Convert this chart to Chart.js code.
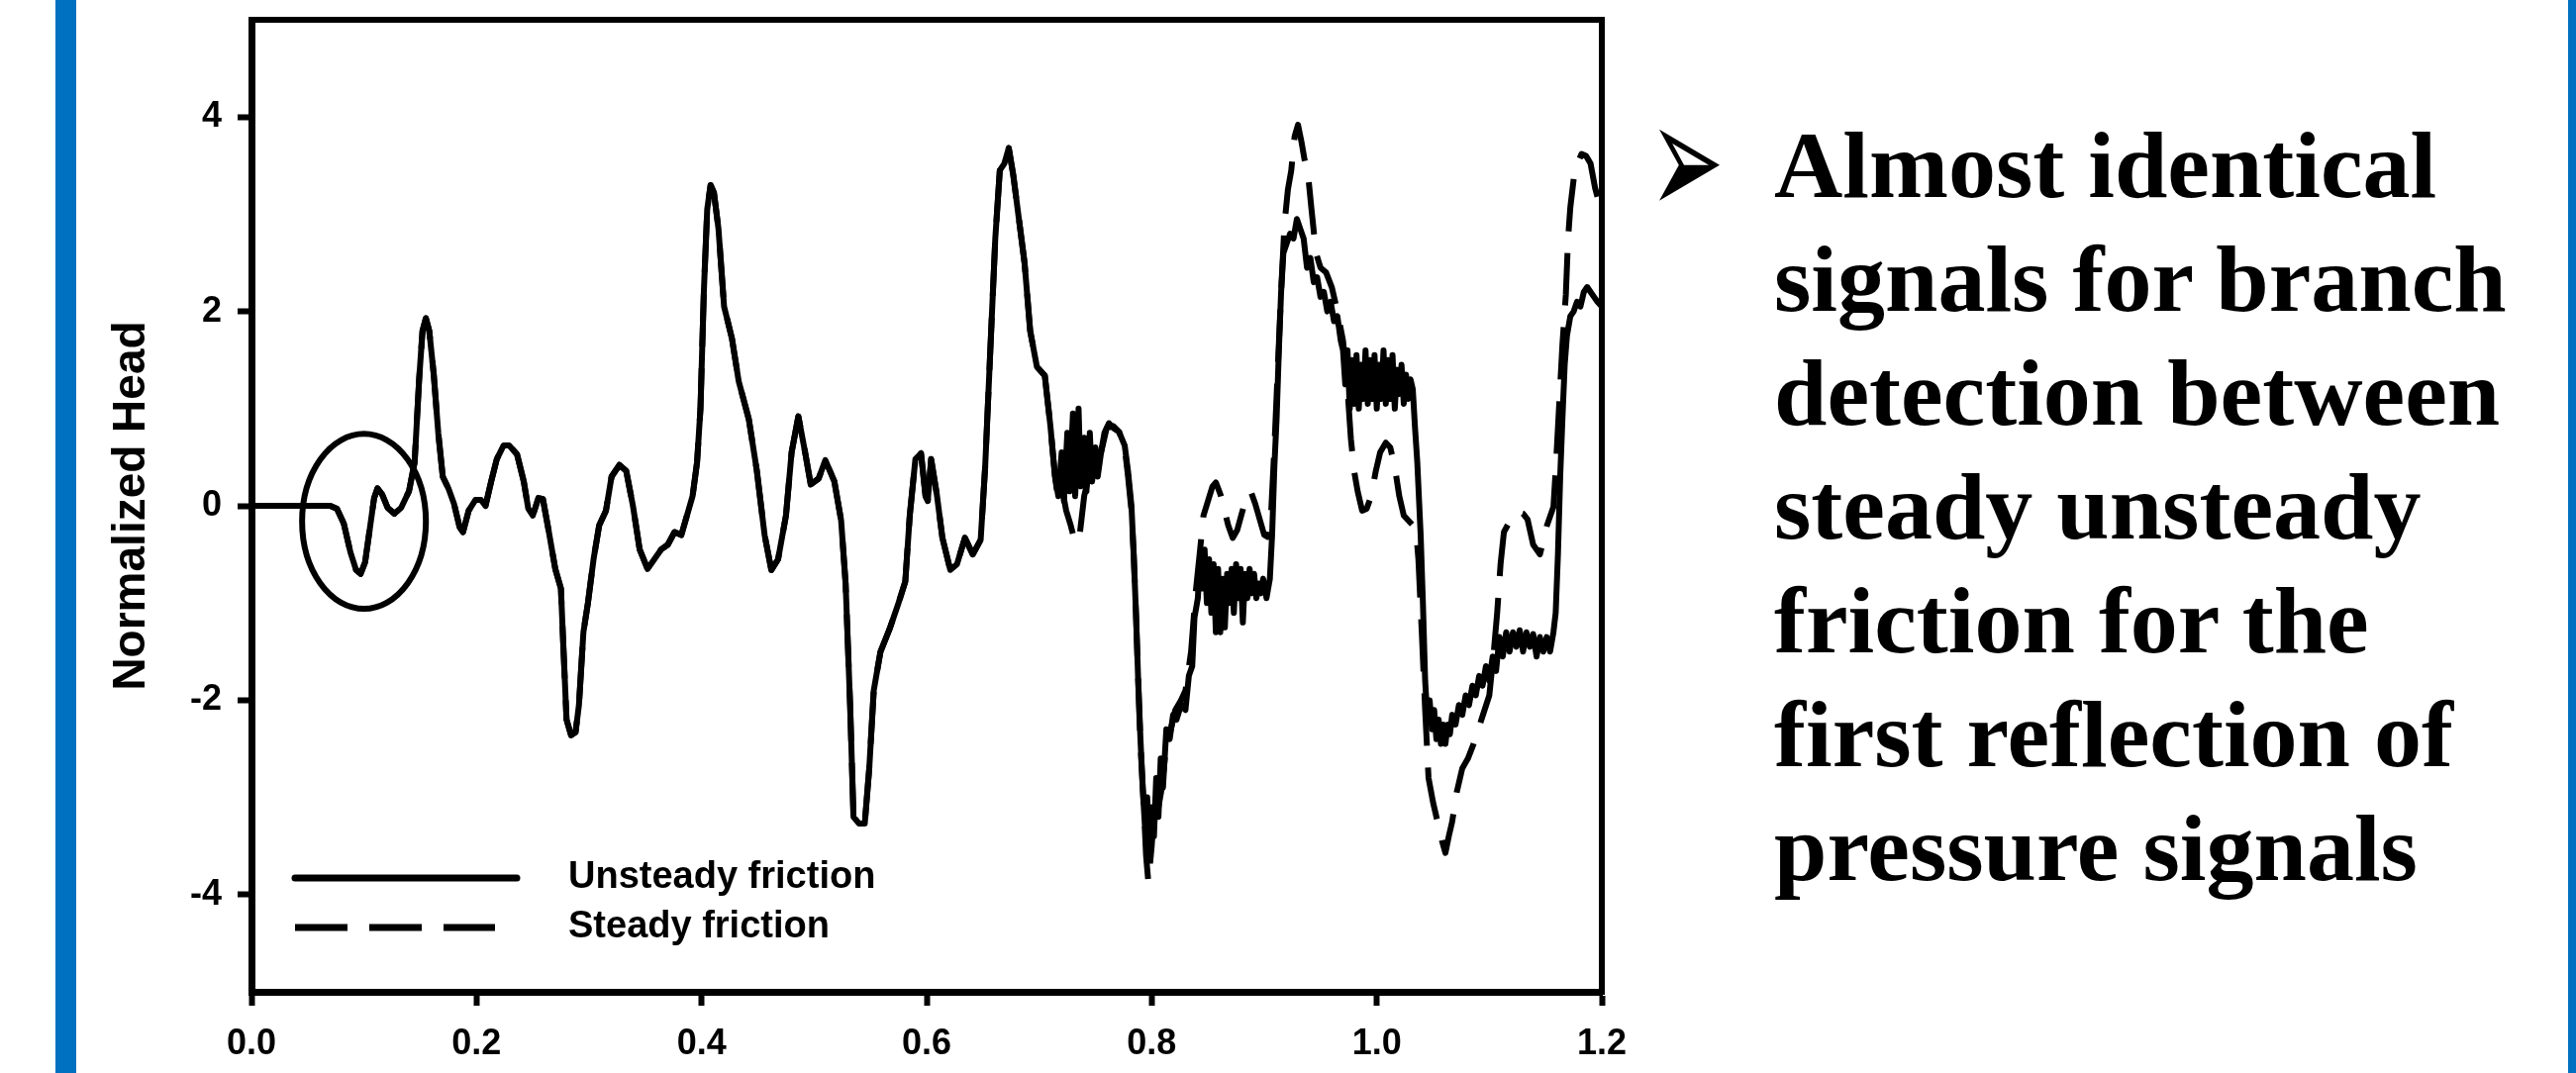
<!DOCTYPE html>
<html>
<head>
<meta charset="utf-8">
<script src="https://cdn.jsdelivr.net/npm/chart.js@4.4.1/dist/chart.umd.min.js"></script>
<style>
  html, body { margin: 0; padding: 0; background: #fff; width: 2602px; height: 1084px; overflow: hidden; position: relative; }
  #barLeft { position: absolute; left: 56px; top: 0; width: 21px; height: 1084px; background: #0070C0; }
  #barRight { position: absolute; left: 2594px; top: 0; width: 8px; height: 1084px; background: #0070C0; }
  #wrap { position: absolute; left: 0; top: 0; width: 1700px; height: 1084px; }
  #note { position: absolute; left: 1792px; top: 109px; font-family: "Liberation Serif", "Times New Roman", serif; font-weight: bold; font-size: 96px; line-height: 115px; color: #000; white-space: nowrap; }
  #bullet { position: absolute; left: 1666px; top: 80px; display: inline-block; font-family: "DejaVu Sans", sans-serif; font-size: 90px; line-height: 90px; color: #000; transform: scaleY(1.82); transform-origin: 0 0; }
</style>
</head>
<body>
<div id="barLeft"></div>
<div id="barRight"></div>
<div id="wrap"><canvas id="chart" width="1700" height="1084"></canvas></div>
<span id="bullet">&#x27A2;</span>
<div id="note">Almost identical<br>signals for branch<br>detection between<br>steady unsteady<br>friction for the<br>first reflection of<br>pressure signals</div>
<script>
// ---- data (time in s, normalized head) ----
// Both friction models coincide up to ~0.714 s
const earlyTime = [0.000,0.070,0.076,0.082,0.088,0.093,0.097,0.101,0.105,0.109,
  0.112,0.116,0.121,0.127,0.133,0.140,0.145,0.149,0.152,0.155,
  0.158,0.162,0.166,0.170,0.175,0.180,0.185,0.188,0.193,0.199,
  0.204,0.208,0.213,0.218,0.224,0.229,0.236,0.242,0.246,0.250,
  0.255,0.259,0.264,0.270,0.275,0.277,0.280,0.284,0.288,0.291,
  0.295,0.299,0.304,0.309,0.315,0.320,0.327,0.333,0.339,0.345,
  0.352,0.358,0.364,0.370,0.376,0.382,0.387,0.392,0.396,0.399,
  0.402,0.405,0.408,0.411,0.415,0.420,0.427,0.433,0.442,0.449,
  0.456,0.462,0.468,0.475,0.480,0.486,0.492,0.497,0.504,0.510,
  0.518,0.524,0.528,0.532,0.535,0.540,0.545,0.549,0.553,0.559,
  0.567,0.575,0.581,0.585,0.590,0.595,0.599,0.601,0.604,0.609,
  0.614,0.621,0.627,0.634,0.641,0.648,0.652,0.656,0.661,0.665,
  0.669,0.673,0.677,0.682,0.687,0.692,0.698,0.705,0.710,0.714];
const earlyHead = [0.00,0.00,-0.03,-0.18,-0.48,-0.66,-0.70,-0.58,-0.25,0.08,
  0.18,0.12,-0.02,-0.08,-0.02,0.15,0.45,1.30,1.80,1.93,
  1.80,1.35,0.75,0.30,0.18,0.02,-0.22,-0.27,-0.05,0.06,
  0.06,0.00,0.25,0.48,0.62,0.62,0.53,0.25,-0.03,-0.10,
  0.08,0.07,-0.25,-0.65,-0.85,-1.40,-2.20,-2.36,-2.33,-2.05,
  -1.30,-1.00,-0.55,-0.20,-0.05,0.30,0.42,0.36,0.00,-0.45,
  -0.65,-0.55,-0.45,-0.40,-0.27,-0.30,-0.10,0.10,0.45,1.00,
  2.20,3.05,3.30,3.22,2.85,2.05,1.72,1.28,0.89,0.37,
  -0.30,-0.66,-0.55,-0.10,0.55,0.92,0.55,0.22,0.28,0.47,
  0.25,-0.15,-0.80,-2.05,-3.20,-3.27,-3.27,-2.70,-1.90,-1.50,
  -1.27,-1.00,-0.78,-0.10,0.48,0.54,0.10,0.05,0.48,0.12,
  -0.33,-0.66,-0.60,-0.33,-0.50,-0.35,0.40,1.45,2.75,3.45,
  3.52,3.68,3.40,2.95,2.50,1.80,1.43,1.34,0.82,0.31];

// Unsteady friction after 0.714 s
const lateTimeUnsteady = [0.717,0.720,0.722,0.725,0.727,0.730,0.732,0.735,0.737,0.740,
  0.742,0.745,0.747,0.750,0.752,0.755,0.758,0.762,0.766,0.771,
  0.776,0.779,0.782,0.784,0.786,0.788,0.790,0.792,0.794,0.796,
  0.798,0.800,0.802,0.804,0.806,0.808,0.810,0.813,0.816,0.819,
  0.822,0.826,0.830,0.833,0.836,0.838,0.841,0.843,0.845,0.847,
  0.849,0.851,0.853,0.855,0.857,0.859,0.861,0.863,0.865,0.867,
  0.869,0.871,0.873,0.875,0.877,0.879,0.881,0.883,0.885,0.887,
  0.889,0.891,0.893,0.895,0.897,0.899,0.902,0.905,0.907,0.909,
  0.911,0.913,0.915,0.917,0.920,0.923,0.926,0.929,0.932,0.935,
  0.938,0.941,0.944,0.947,0.950,0.953,0.956,0.959,0.962,0.965,
  0.968,0.970,0.972,0.974,0.976,0.978,0.980,0.982,0.984,0.986,
  0.988,0.990,0.992,0.994,0.996,0.998,1.000,1.002,1.004,1.006,
  1.008,1.010,1.012,1.014,1.016,1.018,1.020,1.022,1.024,1.026,
  1.028,1.030,1.032,1.034,1.036,1.039,1.041,1.043,1.045,1.047,
  1.049,1.051,1.053,1.055,1.057,1.059,1.061,1.063,1.065,1.067,
  1.070,1.073,1.076,1.079,1.082,1.085,1.088,1.091,1.094,1.097,
  1.100,1.103,1.106,1.109,1.112,1.115,1.118,1.121,1.124,1.127,
  1.130,1.133,1.136,1.139,1.142,1.145,1.148,1.151,1.154,1.157,
  1.159,1.161,1.163,1.165,1.167,1.169,1.172,1.175,1.178,1.181,
  1.184,1.187,1.190,1.193,1.196,1.200];
const lateHeadUnsteady = [0.10,0.55,0.05,0.75,0.15,0.95,0.10,1.00,0.20,0.70,
  0.15,0.75,0.25,0.60,0.30,0.55,0.75,0.85,0.80,0.76,
  0.62,0.35,0.00,-0.50,-1.10,-1.80,-2.40,-2.90,-3.30,-3.00,
  -3.60,-3.10,-3.40,-2.80,-3.20,-2.60,-2.90,-2.30,-2.40,-2.15,
  -2.20,-2.05,-2.10,-1.75,-1.65,-1.15,-0.95,-0.55,-0.85,-0.45,
  -1.00,-0.55,-1.10,-0.60,-1.30,-0.65,-1.30,-0.75,-1.25,-0.70,
  -1.00,-0.65,-1.10,-0.60,-0.95,-0.65,-1.20,-0.70,-0.95,-0.65,
  -0.90,-0.70,-0.95,-0.80,-0.90,-0.75,-0.95,-0.75,-0.30,0.40,
  0.90,1.60,2.20,2.60,2.70,2.80,2.75,2.95,2.85,2.75,
  2.45,2.55,2.30,2.35,2.15,2.20,2.00,2.10,1.90,1.95,
  1.70,1.60,1.25,1.60,1.00,1.50,1.05,1.55,1.00,1.45,
  1.10,1.60,1.05,1.50,1.10,1.55,1.00,1.45,1.10,1.60,
  1.05,1.50,1.10,1.55,1.00,1.40,1.15,1.45,1.05,1.35,
  1.10,1.30,1.20,0.80,0.45,-0.30,-1.00,-1.80,-2.20,-2.00,
  -2.30,-2.10,-2.40,-2.20,-2.45,-2.25,-2.45,-2.25,-2.35,-2.15,
  -2.25,-2.05,-2.15,-1.95,-2.05,-1.85,-1.95,-1.75,-1.85,-1.65,
  -1.80,-1.55,-1.70,-1.35,-1.55,-1.30,-1.50,-1.30,-1.45,-1.28,
  -1.50,-1.30,-1.45,-1.32,-1.55,-1.35,-1.50,-1.35,-1.50,-1.30,
  -1.10,-0.50,0.30,0.90,1.45,1.75,1.95,2.00,2.10,2.05,
  2.20,2.25,2.20,2.15,2.10,2.05];

// Steady friction after 0.714 s
const lateTimeSteady = [0.717,0.720,0.724,0.728,0.732,0.736,0.740,0.745,0.750,0.755,
  0.760,0.766,0.771,0.776,0.779,0.782,0.784,0.786,0.788,0.790,
  0.793,0.795,0.797,0.800,0.803,0.806,0.809,0.813,0.817,0.821,
  0.826,0.830,0.835,0.839,0.843,0.846,0.850,0.854,0.857,0.861,
  0.864,0.868,0.872,0.876,0.880,0.884,0.888,0.892,0.896,0.900,
  0.903,0.906,0.909,0.912,0.915,0.918,0.921,0.924,0.927,0.930,
  0.933,0.936,0.939,0.942,0.946,0.950,0.955,0.960,0.965,0.970,
  0.974,0.977,0.980,0.983,0.987,0.991,0.995,0.999,1.003,1.008,
  1.012,1.016,1.020,1.024,1.028,1.032,1.035,1.037,1.040,1.043,
  1.046,1.050,1.054,1.058,1.061,1.064,1.067,1.071,1.076,1.081,
  1.086,1.093,1.100,1.104,1.107,1.110,1.113,1.119,1.125,1.130,
  1.134,1.139,1.145,1.151,1.157,1.159,1.162,1.165,1.168,1.170,
  1.172,1.176,1.182,1.186,1.190,1.194,1.197,1.200];
const lateHeadSteady = [0.05,0.20,-0.05,-0.20,-0.38,-0.30,0.10,0.35,0.45,0.55,
  0.80,0.82,0.76,0.60,0.30,-0.05,-0.50,-1.10,-1.80,-2.45,
  -3.10,-3.60,-3.87,-3.50,-3.00,-3.10,-2.90,-2.45,-2.30,-2.10,
  -2.00,-1.90,-1.50,-0.90,-0.45,-0.10,0.05,0.20,0.24,0.12,
  -0.02,-0.20,-0.33,-0.25,-0.08,0.08,0.15,0.02,-0.14,-0.30,
  -0.32,-0.10,0.60,1.40,2.20,2.90,3.25,3.45,3.80,3.92,
  3.75,3.55,3.40,3.05,2.60,2.45,2.40,2.25,2.00,1.70,
  1.20,0.69,0.35,0.15,-0.05,-0.03,0.10,0.35,0.55,0.65,
  0.60,0.40,0.10,-0.10,-0.15,-0.20,-0.27,-0.55,-1.30,-2.10,
  -2.80,-3.05,-3.25,-3.45,-3.57,-3.40,-3.25,-2.95,-2.70,-2.60,
  -2.45,-2.20,-1.95,-1.50,-1.10,-0.60,-0.27,-0.14,-0.06,-0.08,
  -0.14,-0.40,-0.50,-0.21,-0.01,0.37,1.02,1.66,2.17,2.75,
  3.07,3.46,3.62,3.60,3.52,3.27,3.14,3.10];

const seriesLabels = ['Unsteady friction', 'Steady friction'];
const xTickValues = [0, 0.2, 0.4, 0.6, 0.8, 1.0, 1.2];
const xTickLabels = ['0.0', '0.2', '0.4', '0.6', '0.8', '1.0', '1.2'];
const yTickValues = [-4, -2, 0, 2, 4];
const yTickLabels = ['-4', '-2', '0', '2', '4'];
const axisTitleY = 'Normalized Head';
// circled region (data units: centre time, centre head, half-width, half-height)
const highlight = { t: 0.100, head: -0.16, dt: 0.055, dh: 0.90 };

// ---- build point lists from the arrays ----
function pts(ts, hs) { return ts.map((t, i) => ({ x: t, y: hs[i] })); }
const unsteadyPoints = pts(earlyTime.concat(lateTimeUnsteady), earlyHead.concat(lateHeadUnsteady));
const steadyPoints = pts(earlyTime.concat(lateTimeSteady), earlyHead.concat(lateHeadSteady));

const FONT = '"Liberation Sans", Arial, Helvetica, sans-serif';

const notesPlugin = {
  id: 'notes',
  afterDatasetsDraw(chart) {
    const { ctx, chartArea: a, scales: { x, y } } = chart;
    ctx.save();
    ctx.strokeStyle = '#000';
    // top and right frame
    ctx.lineWidth = 6;
    ctx.lineCap = 'square';
    ctx.beginPath();
    ctx.moveTo(a.left, a.top);
    ctx.lineTo(a.right, a.top);
    ctx.lineTo(a.right, a.bottom);
    ctx.stroke();
    // circled region
    const cx = x.getPixelForValue(highlight.t);
    const cy = y.getPixelForValue(highlight.head);
    const rx = Math.abs(x.getPixelForValue(highlight.t + highlight.dt) - cx);
    const ry = Math.abs(y.getPixelForValue(highlight.head + highlight.dh) - cy);
    ctx.lineWidth = 6;
    ctx.beginPath();
    ctx.ellipse(cx, cy, rx, ry, 0, 0, Math.PI * 2);
    ctx.stroke();
    // legend inside plot
    const rows = [a.bottom - 115, a.bottom - 65];
    const ends = [a.left + 268, a.left + 246];
    chart.data.datasets.forEach((ds, i) => {
      ctx.lineWidth = 7;
      ctx.lineCap = ds.borderDash && ds.borderDash.length ? 'butt' : 'round';
      ctx.setLineDash(ds.borderDash || []);
      ctx.beginPath();
      ctx.moveTo(a.left + 44, rows[i]);
      ctx.lineTo(ends[i], rows[i]);
      ctx.stroke();
      ctx.setLineDash([]);
      ctx.fillStyle = '#000';
      ctx.font = 'bold 38px ' + FONT;
      ctx.textAlign = 'left';
      ctx.textBaseline = 'middle';
      ctx.fillText(ds.label, a.left + 320, rows[i]);
    });
    ctx.restore();
  }
};

new Chart(document.getElementById('chart'), {
  type: 'line',
  data: {
    datasets: [
      { label: seriesLabels[0], data: unsteadyPoints, borderColor: '#000', borderWidth: 6,
        pointRadius: 0, tension: 0, fill: false, borderJoinStyle: 'round', borderCapStyle: 'round' },
      { label: seriesLabels[1], data: steadyPoints, borderColor: '#000', borderWidth: 6,
        borderDash: [53, 22], pointRadius: 0, tension: 0, fill: false, borderJoinStyle: 'round' }
    ]
  },
  options: {
    responsive: false,
    animation: false,
    devicePixelRatio: 1,
    layout: { padding: { left: 0, top: 20, right: 82, bottom: 0 } },
    plugins: { legend: { display: false }, tooltip: { enabled: false } },
    scales: {
      x: {
        type: 'linear', position: 'bottom', min: 0, max: 1.2,
        afterBuildTicks: (s) => { s.ticks = xTickValues.map(v => ({ value: v })); },
        afterFit: (s) => { s.height = 82; s.paddingLeft = 0; s.paddingRight = 0; },
        ticks: {
          autoSkip: false, maxRotation: 0, minRotation: 0, padding: 17, color: '#000',
          font: { family: FONT, weight: 'bold', size: 36 },
          callback: (v, i) => xTickLabels[i]
        },
        grid: { drawOnChartArea: false, drawTicks: true, tickLength: 14, tickWidth: 6, tickColor: '#000' },
        border: { display: true, color: '#000', width: 7 }
      },
      y: {
        type: 'linear', position: 'left', min: -5, max: 5,
        afterBuildTicks: (s) => { s.ticks = yTickValues.map(v => ({ value: v })); },
        afterFit: (s) => { s.width = 254; s.paddingTop = 0; s.paddingBottom = 0; },
        ticks: {
          padding: 16, color: '#000',
          font: { family: FONT, weight: 'bold', size: 36 },
          callback: (v, i) => yTickLabels[i]
        },
        title: {
          display: true, text: axisTitleY, color: '#000',
          font: { family: FONT, weight: 'bold', size: 46 },
          padding: { top: 106, bottom: 0 }
        },
        grid: { drawOnChartArea: false, drawTicks: true, tickLength: 14, tickWidth: 6, tickColor: '#000' },
        border: { display: true, color: '#000', width: 7 }
      }
    }
  },
  plugins: [notesPlugin]
});
</script>
</body>
</html>
